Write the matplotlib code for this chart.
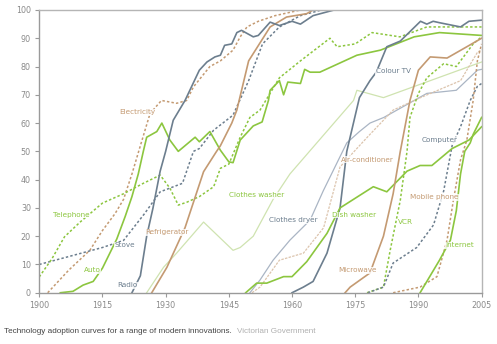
import matplotlib
matplotlib.use("Agg")
import matplotlib.pyplot as plt

GREEN = "#8cc63f"
TAN = "#c49a72"
SLATE = "#6c7e8e"
LGREEN = "#cfe3b0"
LTAN = "#dcc4ad"
LBLUE = "#aab5c4"

# Данные (год, % домохозяйств)
electricity_years = [1902, 1907, 1912, 1915, 1918, 1920, 1922, 1924, 1926.3, 1929, 1932.6, 1935, 1936.6,
                     1940.5, 1943, 1946, 1947.7, 1949.3, 1952, 1956, 1962, 2005]
electricity = [0, 8, 15, 22, 28, 33, 42, 52, 63.4, 68, 67, 68, 72.8, 80, 82, 85.8, 90.5, 94, 96, 98, 100, 100]

radio_years = [1922, 1924, 1925.5, 1927, 1928.7, 1930, 1931.8, 1934.6, 1938, 1939.8, 1941.7, 1943, 1944,
               1945.7, 1946.9, 1948, 1950.8, 1952, 1954.8, 1957, 1960, 1962, 1965, 1970, 2005]
radio = [0, 6, 20, 30, 43, 50, 61, 68, 78.7, 81.6, 83.4, 84, 87.5, 88, 92, 92.8, 90.5, 91, 95.7, 94.5, 96,
         95, 98, 100, 100]

stove_years = [1900, 1915, 1920, 1925, 1928.7, 1931, 1934, 1936.6, 1938, 1941.4, 1946, 1949.7, 1953, 1957,
               1962, 1967, 2005]
stove = [10, 16, 18.5, 28, 35.7, 37, 38.7, 50, 51, 57.5, 62.8, 75, 88, 94, 98, 100, 100]

telephone_years = [1900, 1903, 1906, 1909.7, 1915, 1920, 1924.7, 1928.7, 1931, 1933, 1935, 1938, 1941.4,
                   1943, 1945, 1947.7, 1950, 1952.4, 1957, 1962, 1969, 1970.7, 1975, 1979, 1985.6, 1992, 2005]
telephone = [5.6, 12, 19.8, 25, 31.7, 35, 38.7, 41.6, 37, 31, 32, 34, 37.5, 44, 45.5, 55, 62, 64.6, 76, 82,
             90, 87, 88, 92, 90.5, 94, 94]

auto_years = [1905, 1908, 1910.4, 1912.8, 1915, 1918.4, 1920.4, 1922, 1923.5, 1924.7, 1925.5, 1927.9, 1929.1,
              1931, 1933, 1935, 1937, 1938, 1940.5, 1943, 1945, 1946, 1947.7, 1950.8, 1952.9, 1954.4, 1954.8,
              1957, 1958, 1959, 1962, 1963, 1964.3, 1966.6, 1975.4, 1981, 1989, 1995, 2005]
auto = [0, 0.5, 2.7, 4, 8.7, 19, 27, 34, 42, 50, 55, 57, 60, 54, 50, 52.5, 55, 53.4, 57, 50.4, 46.3, 46, 54,
        59, 60.4, 68, 71.6, 75, 70, 74.5, 74, 79, 78, 78, 84, 85.8, 90.5, 92, 91]

fridge_years = [1926.7, 1930.3, 1934.6, 1939, 1942, 1943, 1945.7, 1946.9, 1949.7, 1954.8, 1958.7, 1963.5,
                1965, 2005]
fridge = [0, 9, 23, 42.8, 49.8, 52, 60, 64.6, 82, 94, 97.5, 98.7, 100, 100]

washer_years = [1925.5, 1929.5, 1932.6, 1939, 1946, 1947.7, 1950.8, 1955.5, 1959.5, 1974.6, 1975.4, 1981.7,
                2005]
washer = [0, 9, 14, 25, 15, 16, 20, 33, 42, 68, 71.6, 69, 81.6]

dryer_years = [1950, 1952.4, 1955.5, 1959.5, 1964.3, 1967.4, 1973, 1976, 1978.5, 1981.8, 1992, 1999, 2004,
               2005]
dryer = [0, 4.5, 11.5, 18.6, 25.7, 36, 53, 57, 60, 62, 70.5, 71.6, 78.7, 79]

aircon_years = [1950.5, 1952.4, 1957, 1962.7, 1967.5, 1971.4, 1976, 1978.5, 1984, 1990.5, 2000, 2004, 2005]
aircon = [0, 2, 11.5, 14, 23, 44.5, 52, 56, 64.6, 69, 75, 85, 86]

colourtv_years = [1960, 1962.7, 1965, 1968.3, 1971.4, 1973, 1976, 1978.5, 1980, 1982.5, 1985.7, 1990.5,
                  1992, 1993.5, 1995, 2000, 2002, 2005]
colourtv = [0, 2, 4, 14, 30, 50, 69, 75, 78, 87, 89, 96, 95, 96, 95.5, 94, 96, 96.4]

dishwasher_years = [1949, 1951.6, 1954, 1958, 1960, 1963.5, 1968.3, 1971.4, 1979.3, 1982.5, 1987.3, 1990.4,
                    1993.2, 1998, 2002, 2005]
dishwasher = [0, 3.4, 3.4, 5.7, 5.7, 11, 21, 30, 37.5, 35.7, 43, 45, 45, 51, 54, 58.7]

microwave_years = [1972.6, 1973.8, 1978.5, 1981.7, 1984, 1985.7, 1988, 1990, 1992.8, 1996.8, 2001.5, 2005]
microwave = [0, 2, 7, 20, 35, 50, 68, 78.7, 83.4, 83, 87, 90]

vcr_years = [1977.8, 1981.7, 1983.3, 1985.7, 1987.3, 1988, 1990, 1992, 1996, 1999, 2003, 2005]
vcr = [0, 2, 15, 32.7, 50, 62, 70.5, 76, 81, 80, 88, 90.5]

computer_years = [1978, 1981.7, 1984, 1989.6, 1993.6, 1996, 1998, 2000, 2002.3, 2004, 2005]
computer = [0, 2, 10.5, 16, 24, 36, 52, 58.7, 68, 73, 74]

mobile_years = [1984, 1990.4, 1994.4, 1996.8, 1998.3, 2000, 2001.5, 2003, 2004, 2005]
mobile = [0, 2, 5.7, 18.6, 32.7, 47, 54, 68, 82, 88]

internet_years = [1990.4, 1995, 1997.6, 1999, 2000, 2001, 2002.3, 2003, 2005]
internet = [0, 11.5, 18.6, 29, 42, 50, 53, 56, 62]

# подписи: текст, год, значение, цвет
labels = [
    ("Electricity", 1923.2, 63.8, TAN),
    ("Telephone", 1907.5, 27.5, GREEN),
    ("Stove", 1920.2, 16.8, SLATE),
    ("Auto", 1912.5, 8, GREEN),
    ("Radio", 1921, 2.7, SLATE),
    ("Refrigerator", 1930.3, 21.4, TAN),
    ("Clothes washer", 1951.6, 34.5, GREEN),
    ("Clothes dryer", 1960.2, 25.7, SLATE),
    ("Dish washer", 1974.8, 27.5, GREEN),
    ("Air-conditioner", 1977.9, 47, TAN),
    ("Colour TV", 1984, 78.3, SLATE),
    ("Microwave", 1975.5, 8, TAN),
    ("VCR", 1986.9, 25, GREEN),
    ("Mobile phone", 1993.7, 33.7, TAN),
    ("Computer", 1995, 53.9, SLATE),
    ("Internet", 1999.8, 16.8, GREEN),
]

NARROW = ["Liberation Sans Narrow", "DejaVu Sans"]

fig = plt.figure(figsize=(4.97, 3.44), dpi=100)
ax = fig.add_axes([0.079, 0.149, 0.890, 0.822])

dot = (0, (1.6, 1.4))
ax.plot(washer_years, washer, color=LGREEN, lw=0.9)
ax.plot(dryer_years, dryer, color=LBLUE, lw=0.9)
ax.plot(aircon_years, aircon, color=LTAN, lw=0.9, ls=(0, (2, 1)))
ax.plot(electricity_years, electricity, color=TAN, lw=1.1, ls=dot)
ax.plot(stove_years, stove, color=SLATE, lw=1.1, ls=dot)
ax.plot(telephone_years, telephone, color=GREEN, lw=1.1, ls=dot)
ax.plot(vcr_years, vcr, color=GREEN, lw=1.1, ls=dot)
ax.plot(computer_years, computer, color=SLATE, lw=1.1, ls=dot)
ax.plot(mobile_years, mobile, color=TAN, lw=1.1, ls=dot)
ax.plot(auto_years, auto, color=GREEN, lw=1.2)
ax.plot(fridge_years, fridge, color=TAN, lw=1.2)
ax.plot(radio_years, radio, color=SLATE, lw=1.2)
ax.plot(colourtv_years, colourtv, color=SLATE, lw=1.2)
ax.plot(dishwasher_years, dishwasher, color=GREEN, lw=1.2)
ax.plot(microwave_years, microwave, color=TAN, lw=1.2)
ax.plot(internet_years, internet, color=GREEN, lw=1.2)

for txt, x, y, c in labels:
    ax.text(x, y, txt, color=c, fontsize=5.2, family=NARROW, ha="center", va="center",
            bbox=dict(facecolor="white", edgecolor="none", pad=0.3, alpha=0.8))

ax.set_xlim(1900, 2005)
ax.set_ylim(0, 100)
ax.set_xticks(range(1900, 2006, 15))
ax.set_yticks(range(0, 101, 10))
for s in ax.spines.values():
    s.set_color("#b5b5b5")
    s.set_linewidth(1.0)
ax.spines["left"].set_color("#9a9a9a")
ax.spines["bottom"].set_color("#9a9a9a")
ax.tick_params(length=3, width=0.8, color="#9a9a9a", labelcolor="#8a8a8a", labelsize=5.8, pad=3)
for lab in ax.get_xticklabels() + ax.get_yticklabels():
    lab.set_family(NARROW)

fig.text(0.008, 0.035, "Technology adoption curves for a range of modern innovations.",
         fontsize=5.9, color="#444444", family="Liberation Sans", va="center")
fig.text(0.476, 0.035, "Victorian Government", fontsize=5.9, color="#b0b0b0",
         family="Liberation Sans", va="center")

fig.savefig("out.png", dpi=100)
